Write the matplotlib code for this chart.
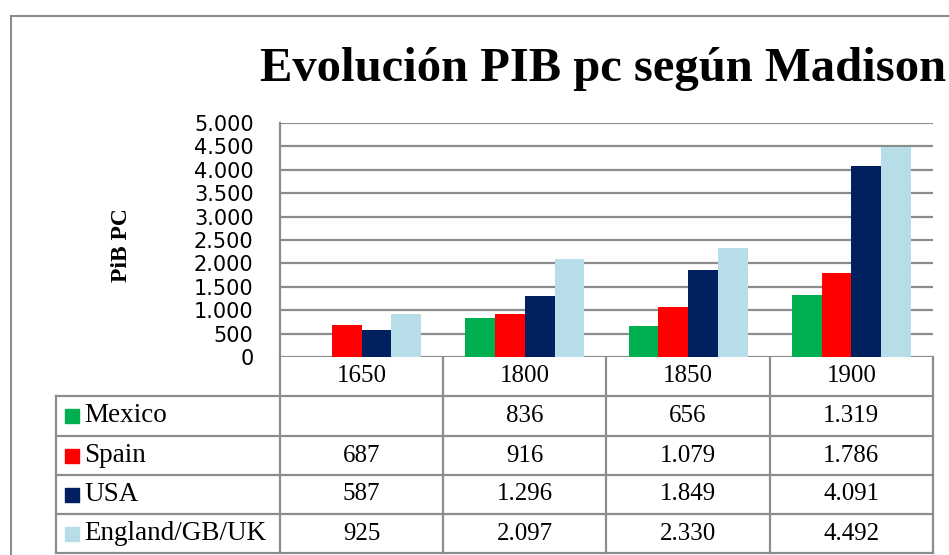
import numpy as np
import matplotlib.pyplot as plt

# datos (Madison)
years = ["1650", "1800", "1850", "1900"]
countries = ["Mexico", "Spain", "USA", "England/GB/UK"]
mexico = [np.nan, 836, 656, 1319]
spain = [687, 916, 1079, 1786]
usa = [587, 1296, 1849, 4091]
uk = [925, 2097, 2330, 4492]
colors = ["#00B050", "#FF0000", "#002060", "#B7DDE8"]
yticks = [0, 500, 1000, 1500, 2000, 2500, 3000, 3500, 4000, 4500, 5000]

series = [mexico, spain, usa, uk]

def miles(v):
    return f"{int(v):,}".replace(",", ".")

W, H = 949, 555
fig = plt.figure(figsize=(W / 100, H / 100), dpi=100)

# panel de fondo en pixeles, para marco, titulo y tabla
bg = fig.add_axes([0, 0, 1, 1])
bg.set_xlim(0, W)
bg.set_ylim(H, 0)
bg.axis("off")

L, R, T, B = 280, 933, 123, 357
ax = fig.add_axes([L / W, 1 - B / H, (R - L) / W, (B - T) / H])
x = np.arange(len(years))
bw = 0.73 / 4
for i, (s, c) in enumerate(zip(series, colors)):
    ax.bar(x + (i - 1.5) * bw, s, bw, color=c, zorder=3)
ax.set_xlim(-0.5, len(years) - 0.5)
ax.set_ylim(0, 5000)
ax.set_yticks(yticks)
ax.set_yticklabels([miles(v) for v in yticks], fontsize=15, family="DejaVu Sans")
ax.tick_params(axis="y", length=0, pad=19)
ax.set_xticks([])
ax.grid(axis="y", color="#8c8c8c", lw=1.6, zorder=0)
for sp in ["top", "right", "bottom"]:
    ax.spines[sp].set_visible(False)
ax.spines["left"].set_color("#8c8c8c")
ax.spines["left"].set_linewidth(1.6)

gris = "#8c8c8c"
# marco exterior
bg.plot([11, 11], [16, H], color=gris, lw=1.5)
bg.plot([11, W], [16, 16], color=gris, lw=1.5)

bg.text(603, 69, "Evolución PIB pc según Madison", ha="center", va="center",
        fontsize=35, fontweight="bold", family="Liberation Serif")
bg.text(122, 245, "PiB PC", ha="center", va="center", rotation=90,
        fontsize=17, fontweight="bold", family="Liberation Serif")

# tabla de datos
cols = [L + (R - L) * k / len(years) for k in range(len(years) + 1)]
rows = [B, 396, 436, 475, 514, 553]
LEG = 56
for yy in rows[1:]:
    bg.plot([LEG, R], [yy, yy], color=gris, lw=1.6)
for xx in cols:
    bg.plot([xx, xx], [B, rows[-1]], color=gris, lw=1.6)
bg.plot([LEG, LEG], [rows[1], rows[-1]], color=gris, lw=1.6)

for j, yr in enumerate(years):
    cx = (cols[j] + cols[j + 1]) / 2
    bg.text(cx, (rows[0] + rows[1]) / 2, yr, ha="center", va="center",
            fontsize=18, family="Liberation Serif")
for i, (name, s, c) in enumerate(zip(countries, series, colors)):
    cy = (rows[i + 1] + rows[i + 2]) / 2
    bg.add_patch(plt.Rectangle((65, cy - 7), 14, 14, color=c))
    bg.text(84, cy, name, ha="left", va="center", fontsize=19.5,
            family="Liberation Serif")
    for j, v in enumerate(s):
        if np.isnan(v):
            continue
        cx = (cols[j] + cols[j + 1]) / 2
        bg.text(cx, cy, miles(v), ha="center", va="center", fontsize=18,
                family="Liberation Serif")

fig.savefig("out.png", dpi=100)
